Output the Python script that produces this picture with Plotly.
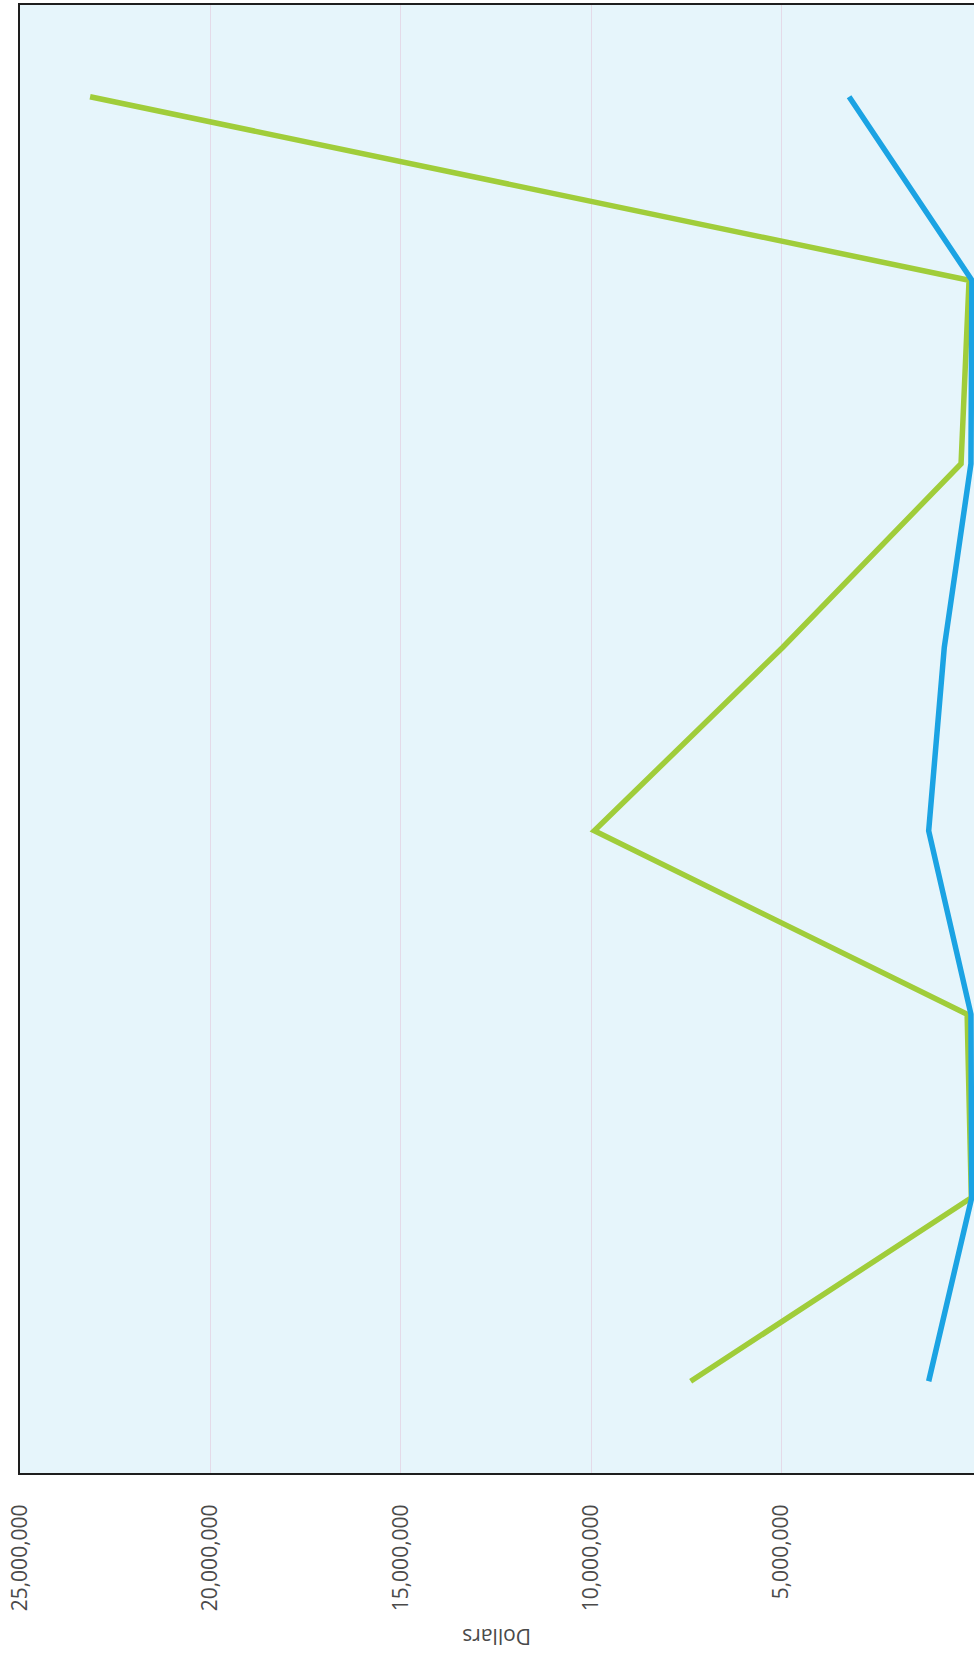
import plotly.graph_objects as go

# Categories listed bottom-to-top (labels are off the page in the reference)
categories = ["P1", "P2", "P3", "P4", "P5", "P6", "P7", "P8"]
green_values = [7390000, 20000, 130000, 9920000, 4970000, 290000, 80000, 23160000]
blue_values = [1140000, 10000, 30000, 1140000, 730000, 30000, 5000, 3230000]
tick_values = [5000000, 10000000, 15000000, 20000000, 25000000]
tick_text = ["5,000,000", "10,000,000", "15,000,000", "20,000,000", "25,000,000"]

fig = go.Figure()
fig.add_trace(go.Scatter(x=green_values, y=categories, mode="lines",
                         line=dict(color="#A0CD3A", width=5.5), showlegend=False))
fig.add_trace(go.Scatter(x=blue_values, y=categories, mode="lines",
                         line=dict(color="#1BA3E3", width=5.5), showlegend=False))

font_family = "Open Sans"
fig.update_layout(
    width=974, height=1659,
    margin=dict(l=20, r=0, t=5, b=186),
    paper_bgcolor="white",
    plot_bgcolor="#E6F5FB",
    font=dict(family=font_family, size=21, color="#4a4a4a"),
    xaxis=dict(
        range=[25000000, -50000],
        tickvals=tick_values, ticktext=tick_text,
        tickangle=-90,
        ticks="",
        ticklabelstandoff=21,
        showgrid=True, gridcolor="#E4DAE8", gridwidth=1,
        zeroline=False,
        showline=True, linecolor="#1e1e1e", linewidth=2, mirror=True,
    ),
    yaxis=dict(
        type="category",
        range=[-0.5, 7.5],
        showticklabels=False,
        ticks="",
        showgrid=False,
        zeroline=False,
        showline=True, linecolor="#1e1e1e", linewidth=2, mirror=False,
    ),
    annotations=[dict(
        text="Dollars", textangle=180,
        xref="paper", yref="paper", x=0.5, y=-0.1117,
        xanchor="center", yanchor="middle", showarrow=False,
        font=dict(family=font_family, size=21, color="#4a4a4a"),
    )],
)

fig.write_html("out.html")
